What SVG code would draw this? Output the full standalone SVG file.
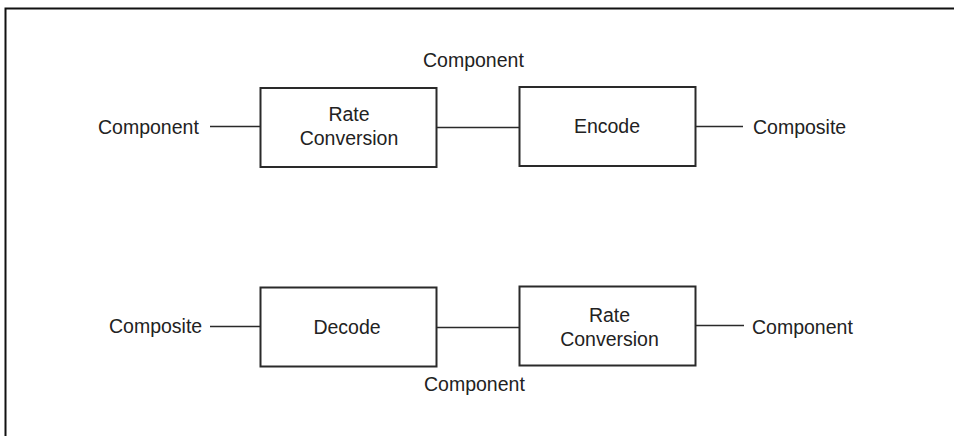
<svg xmlns="http://www.w3.org/2000/svg" width="954" height="436" viewBox="0 0 954 436">
<style>
.frame{fill:none;stroke:#111;stroke-width:2}
.box{fill:#fff;stroke:#2a2a2a;stroke-width:2}
.ln{fill:none;stroke:#2a2a2a;stroke-width:1.6}
text{font-family:"Liberation Sans",Arial,sans-serif;font-size:19.5px;fill:#222}
.c{text-anchor:middle}
</style>
<rect width="954" height="436" fill="#fff"/>
<rect class="frame" x="5.5" y="8.5" width="960" height="440"/>
<g id="connectors">
<line class="ln" x1="210" y1="126.5" x2="260.5" y2="126.5"/>
<line class="ln" x1="436.5" y1="127.5" x2="519.5" y2="127.5"/>
<line class="ln" x1="695.5" y1="126.5" x2="743" y2="126.5"/>
<line class="ln" x1="210" y1="326.5" x2="260.5" y2="326.5"/>
<line class="ln" x1="436.5" y1="327.5" x2="519.5" y2="327.5"/>
<line class="ln" x1="695.5" y1="325.5" x2="744" y2="325.5"/>
</g>
<g id="labels">
<text x="98" y="133.5">Component</text>
<text x="423" y="66.5">Component</text>
<text x="753" y="133.5">Composite</text>
<text x="109" y="333">Composite</text>
<text x="424" y="390.5">Component</text>
<text x="752" y="334">Component</text>
</g>
<g id="rate1">
<rect class="box" x="260.5" y="88" width="176" height="79"/>
<text class="c" x="349" y="120.5">Rate</text>
<text class="c" x="349" y="145">Conversion</text>
</g>
<g id="encode">
<rect class="box" x="519.5" y="87" width="176" height="79"/>
<text class="c" x="607" y="133">Encode</text>
</g>
<g id="decode">
<rect class="box" x="260.5" y="287.5" width="176" height="79"/>
<text class="c" x="347" y="334">Decode</text>
</g>
<g id="rate2">
<rect class="box" x="519.5" y="286.5" width="176" height="79"/>
<text class="c" x="609.5" y="321.5">Rate</text>
<text class="c" x="609.5" y="346">Conversion</text>
</g>
</svg>
